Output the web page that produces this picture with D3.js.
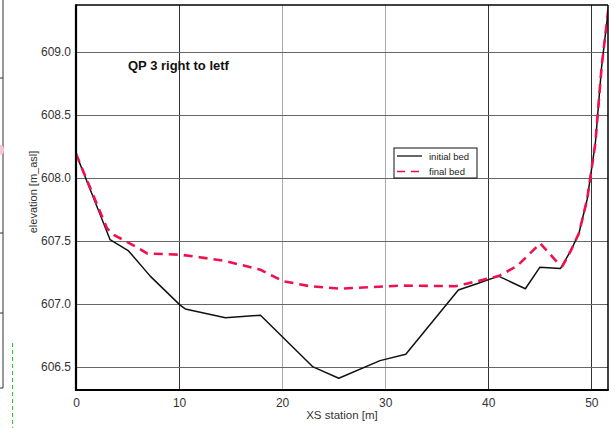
<!DOCTYPE html>
<html><head><meta charset="utf-8">
<script src="https://cdn.jsdelivr.net/npm/d3@7"></script>
<style>body{margin:0;background:#fff;}svg{display:block;font-family:"Liberation Sans",Arial,sans-serif;}</style>
</head><body><svg id="c" width="615" height="428"></svg>
<script>
const title = "QP 3 right to letf";
const xLabel = "XS station [m]";
const yLabel = "elevation [m_asl]";
const seriesNames = ["initial bed", "final bed"];
const xTicks = [0, 10, 20, 30, 40, 50];
const yTicks = [606.5, 607.0, 607.5, 608.0, 608.5, 609.0];

const initialX = [0, 3.3, 5.1, 7.2, 10.1, 10.6, 14.5, 17.9, 23.0, 25.5, 29.5, 32.0, 37.1, 38.9, 41.0, 43.6, 45.0, 47.0, 48.0, 48.8, 49.6, 50.4, 51.0, 51.7];
const initialY = [608.19, 607.51, 607.42, 607.22, 606.99, 606.96, 606.89, 606.91, 606.50, 606.41, 606.55, 606.60, 607.11, 607.16, 607.22, 607.12, 607.29, 607.28, 607.42, 607.56, 607.83, 608.28, 608.88, 609.37];
const finalX = [0, 3.0, 3.6, 5.9, 6.9, 10.1, 12.0, 14.5, 17.9, 20.1, 22.7, 25.6, 31.5, 36.8, 37.9, 41.0, 42.8, 45.05, 46.8, 47.2, 48.0, 48.8, 49.6, 50.4, 51.0, 51.7];
const finalY = [608.19, 607.60, 607.55, 607.45, 607.40, 607.39, 607.37, 607.34, 607.27, 607.18, 607.14, 607.12, 607.145, 607.14, 607.16, 607.22, 607.30, 607.48, 607.32, 607.30, 607.42, 607.56, 607.83, 608.28, 608.88, 609.37];

const svg = d3.select("#c");
const L = 76, R = 608, T = 5, B = 390;
const x = d3.scaleLinear().domain([0, 51.62]).range([L, R]);
const y = d3.scaleLinear().domain([606.317, 609.37]).range([B, T]);

// fragment of neighbouring panel at far left
const frag = svg.append("g").attr("stroke", "#333").attr("stroke-width", 1).attr("fill", "none");
frag.append("path").attr("d", "M3,0V388H0");
[78, 233, 313].forEach(v => frag.append("line").attr("x1", 0).attr("x2", 3).attr("y1", v).attr("y2", v));
svg.append("line").attr("x1", 12.5).attr("x2", 12.5).attr("y1", 343).attr("y2", 428)
  .attr("stroke", "#2c2").attr("stroke-width", 1).attr("stroke-dasharray", "4,3");
svg.append("ellipse").attr("cx", 1).attr("cy", 150).attr("rx", 3).attr("ry", 5).attr("fill", "#f6c6d2");

// clip
svg.append("defs").append("clipPath").attr("id", "clip").append("rect")
  .attr("x", L).attr("y", T).attr("width", R - L).attr("height", B - T);

// gridlines
const vGridColor = ["#000", "#333", "#aaa", "#aaa", "#333", "#333"];
svg.append("g").selectAll("line").data(xTicks.slice(1)).join("line")
  .attr("x1", d => Math.round(x(d)) + 0.5).attr("x2", d => Math.round(x(d)) + 0.5)
  .attr("y1", T).attr("y2", B)
  .attr("stroke", (d, i) => vGridColor[i + 1]).attr("stroke-width", 1);
svg.append("g").selectAll("line").data(yTicks).join("line")
  .attr("x1", L).attr("x2", R)
  .attr("y1", d => Math.round(y(d)) + 0.5).attr("y2", d => Math.round(y(d)) + 0.5)
  .attr("stroke", "#666").attr("stroke-width", 1);

// axes (labels only)
const xAxis = d3.axisBottom(x).tickValues(xTicks).tickSize(0).tickPadding(8).tickFormat(d3.format("d"));
const gx = svg.append("g").attr("transform", `translate(0,${B})`).call(xAxis);
const yAxis = d3.axisLeft(y).tickValues(yTicks).tickSize(0).tickPadding(5).tickFormat(d3.format(".1f"));
const gy = svg.append("g").attr("transform", `translate(${L},0)`).call(yAxis);
[gx, gy].forEach(g => {
  g.select(".domain").remove();
  g.selectAll("text").attr("font-size", 12).attr("fill", "#333").attr("font-family", "Liberation Sans, Arial, sans-serif");
});

// lines
const line = d3.line().x(d => x(d[0])).y(d => y(d[1]));
const plot = svg.append("g").attr("clip-path", "url(#clip)");
plot.append("path").datum(d3.zip(initialX, initialY)).attr("d", line)
  .attr("fill", "none").attr("stroke", "#111").attr("stroke-width", 1.5).attr("stroke-linejoin", "round");
plot.append("path").datum(d3.zip(finalX, finalY)).attr("d", line)
  .attr("fill", "none").attr("stroke", "#f0104e").attr("stroke-width", 2.6).attr("stroke-dasharray", "9,6");

// frame
svg.append("line").attr("x1", L).attr("x2", R).attr("y1", T).attr("y2", T).attr("stroke", "#000").attr("stroke-width", 1.5);
svg.append("line").attr("x1", R).attr("x2", R).attr("y1", T).attr("y2", B).attr("stroke", "#000").attr("stroke-width", 1.5);
svg.append("line").attr("x1", L).attr("x2", L).attr("y1", T - 0.75).attr("y2", B + 1).attr("stroke", "#000").attr("stroke-width", 2.2);
svg.append("line").attr("x1", L - 1).attr("x2", R + 0.75).attr("y1", B).attr("y2", B).attr("stroke", "#000").attr("stroke-width", 2.2);

// title
svg.append("text").attr("x", 128).attr("y", 70).attr("font-size", 13).attr("font-weight", "bold")
  .attr("fill", "#111").text(title);

// axis titles
svg.append("text").attr("x", (L + R) / 2).attr("y", 419).attr("text-anchor", "middle")
  .attr("font-size", 11.5).attr("fill", "#333").text(xLabel);
svg.append("text").attr("transform", "translate(37,192) rotate(-90)").attr("text-anchor", "middle")
  .attr("font-size", 11).attr("fill", "#333").text(yLabel);

// legend
const lg = svg.append("g").attr("transform", "translate(394,148)");
lg.append("rect").attr("width", 83).attr("height", 30).attr("fill", "#fff").attr("stroke", "#111").attr("stroke-width", 1);
lg.append("line").attr("x1", 3).attr("x2", 28).attr("y1", 8).attr("y2", 8).attr("stroke", "#111").attr("stroke-width", 1.3);
lg.append("line").attr("x1", 3).attr("x2", 28).attr("y1", 23.5).attr("y2", 23.5).attr("stroke", "#f0104e").attr("stroke-width", 1.6).attr("stroke-dasharray", "8,6");
lg.selectAll("text.l").data(seriesNames).join("text").attr("class", "l")
  .attr("x", 35).attr("y", (d, i) => 11.5 + i * 15.5).attr("font-size", 9.5).attr("fill", "#222").text(d => d);
</script></body></html>
